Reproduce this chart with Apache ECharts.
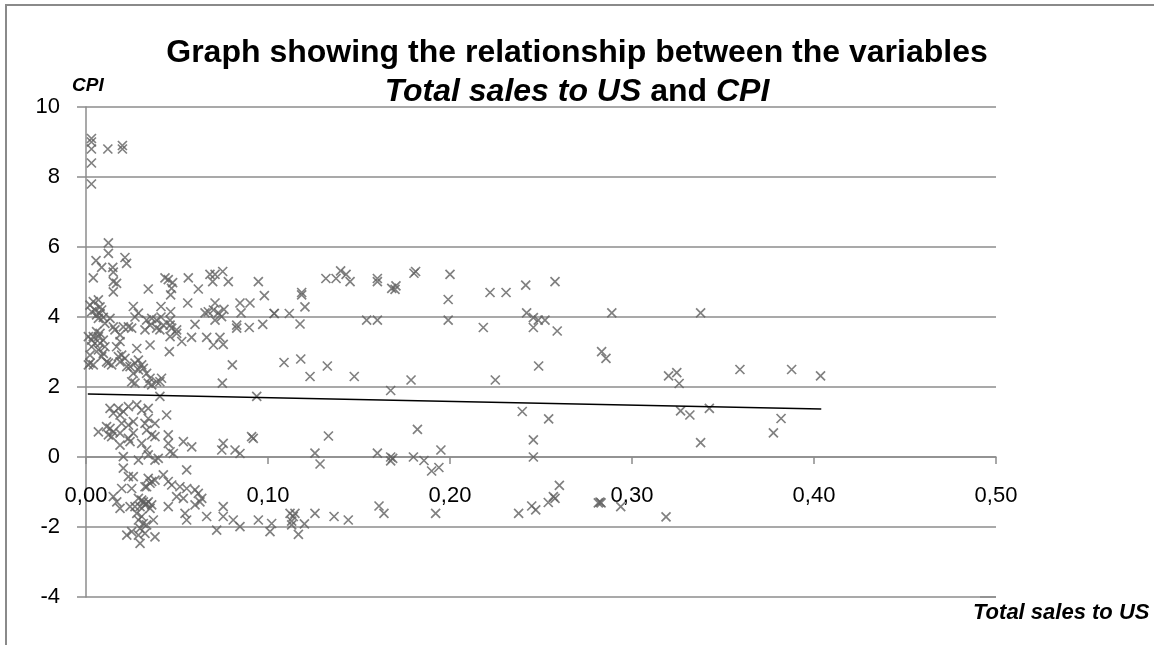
<!DOCTYPE html>
<html>
<head>
<meta charset="utf-8">
<script src="https://cdn.jsdelivr.net/npm/echarts@6/dist/echarts.min.js"></script>
<style>
  html, body { margin: 0; padding: 0; background: #fff; }
  #chart { width: 1154px; height: 645px; }
</style>
</head>
<body>
<div id="chart"></div>
<script>
// [total sales to US, CPI]
const topPoints = [
  [0.003, 9.1], [0.003, 9.0], [0.003, 8.8], [0.012, 8.8], [0.020, 8.9], [0.020, 8.8],
  [0.003, 8.4], [0.003, 7.8]
];

const upperPoints = [
  [0.0123, 6.12], [0.0123, 5.82], [0.0055, 5.61], [0.0086, 5.42], [0.0040, 5.12], [0.0147, 5.42],
  [0.0150, 5.28], [0.0214, 5.70], [0.0223, 5.53], [0.0150, 5.01], [0.0168, 4.96], [0.0150, 4.72],
  [0.0342, 4.80], [0.0434, 5.12], [0.0452, 5.07], [0.0476, 4.98], [0.0470, 4.82], [0.0465, 4.63],
  [0.0562, 5.12], [0.0617, 4.80], [0.0681, 5.22], [0.0709, 5.22], [0.0696, 5.01], [0.0751, 5.30],
  [0.0782, 5.01], [0.0947, 5.01], [0.0980, 4.61], [0.1035, 4.10],
  [0.0260, 4.30], [0.0288, 4.11], [0.0269, 4.00], [0.0412, 4.30], [0.0412, 4.00], [0.0465, 4.15],
  [0.0559, 4.40], [0.0709, 4.40], [0.0846, 4.40], [0.0901, 4.40], [0.0852, 4.12], [0.0654, 4.12],
  [0.0672, 4.15], [0.0700, 4.20], [0.0727, 4.12], [0.0758, 4.22], [0.0709, 3.91], [0.0745, 4.01],
  [0.0971, 3.79], [0.0897, 3.70], [0.0828, 3.77], [0.0828, 3.68], [0.0599, 3.79], [0.0580, 3.42],
  [0.0526, 3.30], [0.0663, 3.42], [0.0700, 3.20], [0.0736, 3.42], [0.0754, 3.22], [0.0458, 3.01],
  [0.0352, 3.20], [0.0804, 2.63], [0.0749, 2.11], [0.0406, 1.73], [0.0938, 1.73]
];

const leftCluster = [
  [0.0040, 4.44], [0.0068, 4.49], [0.0077, 4.29], [0.0049, 4.20], [0.0077, 4.10], [0.0095, 3.99],
  [0.0068, 3.96], [0.0104, 3.82], [0.0132, 3.96], [0.0058, 3.58], [0.0040, 3.44], [0.0077, 3.53],
  [0.0095, 3.34], [0.0049, 3.25], [0.0031, 3.15], [0.0068, 3.06], [0.0095, 2.96], [0.0086, 2.87],
  [0.0022, 2.91], [0.0040, 2.63], [0.0013, 2.63], [0.0113, 2.72], [0.0141, 2.63], [0.0150, 3.72],
  [0.0159, 3.63], [0.0187, 3.49], [0.0205, 3.72], [0.0187, 3.30], [0.0233, 3.72], [0.0251, 3.68],
  [0.0168, 3.15], [0.0196, 2.91], [0.0214, 2.82], [0.0187, 2.72], [0.0224, 2.58], [0.0279, 3.10],
  [0.0022, 4.34], [0.0031, 4.15], [0.0086, 4.20], [0.0058, 4.06], [0.0013, 3.44], [0.0031, 3.34],
  [0.0068, 3.44], [0.0077, 3.25], [0.0104, 3.15], [0.0022, 2.68], [0.0178, 2.87], [0.0123, 2.68],
  [0.0242, 2.58], [0.0269, 2.68], [0.0288, 2.77], [0.0306, 2.63], [0.0260, 2.39], [0.0288, 2.49],
  [0.0315, 2.53], [0.0333, 2.39], [0.0251, 2.15], [0.0269, 2.11], [0.0342, 2.11], [0.0361, 2.06],
  [0.0388, 2.15], [0.0406, 2.15], [0.0415, 2.25], [0.0352, 2.25],
  [0.0333, 3.91], [0.0361, 3.96], [0.0388, 3.91], [0.0352, 3.77], [0.0324, 3.63], [0.0388, 3.68],
  [0.0406, 3.63], [0.0462, 3.91], [0.0462, 3.77], [0.0471, 3.68], [0.0498, 3.63], [0.0462, 3.44],
  [0.0498, 3.53], [0.0425, 3.77]
];

const lowPoints = [
  [0.0132, 1.39], [0.0178, 1.39], [0.0205, 1.30], [0.0233, 1.44], [0.0279, 1.49], [0.0306, 1.34],
  [0.0342, 1.39], [0.0150, 1.25], [0.0187, 1.20], [0.0443, 1.20], [0.0068, 0.72], [0.0132, 0.82],
  [0.0150, 0.72], [0.0123, 0.63], [0.0141, 0.58], [0.0187, 0.68], [0.0233, 0.53], [0.0242, 0.44],
  [0.0260, 0.68], [0.0196, 0.96], [0.0260, 1.01], [0.0324, 0.96], [0.0342, 1.10], [0.0333, 0.77],
  [0.0361, 0.63], [0.0306, 0.39], [0.0452, 0.63], [0.0452, 0.39], [0.0535, 0.44], [0.0581, 0.29],
  [0.0379, 0.58], [0.0333, 0.20], [0.0342, 0.06], [0.0397, -0.04], [0.0379, -0.09], [0.0462, 0.15],
  [0.0480, 0.10], [0.0205, 0.01], [0.0288, -0.09], [0.0187, 0.34], [0.0754, 0.39], [0.0746, 0.20],
  [0.0819, 0.20], [0.0846, 0.10], [0.0910, 0.58], [0.0919, 0.53], [0.0379, 0.96], [0.0233, 0.91],
  [0.0113, 0.87]
];

const negPoints = [
  [0.0553, -0.37], [0.0205, -0.32], [0.0233, -0.56], [0.0260, -0.56], [0.0196, -0.90], [0.0251, -0.90],
  [0.0342, -0.61], [0.0361, -0.70], [0.0324, -0.85], [0.0379, -0.66], [0.0425, -0.51], [0.0452, -0.70],
  [0.0471, -0.80], [0.0516, -0.85], [0.0553, -0.90], [0.0599, -0.94], [0.0617, -1.04], [0.0636, -1.18],
  [0.0626, -1.28], [0.0599, -1.37], [0.0498, -1.13], [0.0535, -1.18], [0.0150, -1.13], [0.0169, -1.28],
  [0.0187, -1.47], [0.0288, -1.18], [0.0315, -1.28], [0.0333, -1.33], [0.0361, -1.37], [0.0297, -1.42],
  [0.0269, -1.42], [0.0242, -1.42], [0.0452, -1.42], [0.0544, -1.61], [0.0553, -1.80], [0.0663, -1.70],
  [0.0718, -2.09], [0.0754, -1.42], [0.0754, -1.70], [0.0809, -1.80], [0.0846, -1.99], [0.0947, -1.80],
  [0.1020, -1.90], [0.1011, -2.13], [0.0288, -1.80], [0.0315, -1.90], [0.0297, -2.04], [0.0333, -1.94],
  [0.0370, -1.80], [0.0224, -2.23], [0.0251, -2.13], [0.0288, -2.23], [0.0324, -2.18], [0.0379, -2.28],
  [0.0297, -2.47], [0.0306, -1.23], [0.0342, -1.28], [0.0324, -1.37], [0.0352, -1.47], [0.0279, -1.61],
  [0.0306, -1.70], [0.0352, -0.75], [0.0333, -0.85]
];

const midPoints = [
  [0.1033, 4.10], [0.1117, 4.10], [0.1176, 3.80], [0.1203, 4.29], [0.1185, 4.70], [0.1185, 4.63],
  [0.1318, 5.10], [0.1374, 5.10], [0.1399, 5.32], [0.1429, 5.22], [0.1451, 5.01], [0.1601, 5.10],
  [0.1601, 5.01], [0.1680, 4.82], [0.1703, 4.89], [0.1698, 4.79], [0.1802, 5.25], [0.1811, 5.30],
  [0.2000, 5.22], [0.1990, 4.50], [0.1990, 3.91], [0.1542, 3.91], [0.1601, 3.91], [0.2183, 3.70],
  [0.2220, 4.70], [0.2308, 4.70], [0.2416, 4.91], [0.2421, 4.12], [0.2458, 3.98], [0.2485, 3.91],
  [0.2522, 3.91], [0.2458, 3.70], [0.2589, 3.60], [0.2577, 5.01], [0.1088, 2.70], [0.1180, 2.80],
  [0.1231, 2.30], [0.1326, 2.60], [0.1474, 2.30], [0.1674, 1.90], [0.1786, 2.20], [0.2249, 2.20],
  [0.2487, 2.60],
  [0.2397, 1.30], [0.2542, 1.09], [0.1332, 0.60], [0.1821, 0.79], [0.2458, 0.49], [0.2458, 0.00],
  [0.1258, 0.11], [0.1286, -0.20], [0.1601, 0.11], [0.1674, 0.00], [0.1674, -0.11], [0.1685, -0.04],
  [0.1799, 0.00], [0.1857, -0.10], [0.1899, -0.40], [0.1939, -0.30], [0.1950, 0.20],
  [0.1121, -1.61], [0.1139, -1.70], [0.1130, -1.83], [0.1130, -1.94], [0.1148, -1.61], [0.1167, -2.21],
  [0.1200, -1.91], [0.1258, -1.61], [0.1363, -1.70], [0.1441, -1.80], [0.1610, -1.40], [0.1637, -1.61],
  [0.1921, -1.61], [0.2377, -1.61], [0.2449, -1.40], [0.2471, -1.51], [0.2540, -1.30], [0.2568, -1.13],
  [0.2601, -0.81], [0.2577, -1.18]
];

const rightPoints = [
  [0.2889, 4.12], [0.3377, 4.12], [0.2833, 3.01], [0.2857, 2.82], [0.3201, 2.32], [0.3246, 2.41],
  [0.3259, 2.10], [0.3593, 2.50], [0.3877, 2.50], [0.4036, 2.32], [0.3267, 1.32], [0.3318, 1.20],
  [0.3425, 1.39], [0.3819, 1.10], [0.3377, 0.41], [0.3777, 0.69], [0.2815, -1.31], [0.2830, -1.31],
  [0.2824, -1.29], [0.2938, -1.42], [0.3187, -1.71]
];

// linear trend line end points
const trendX = [0.001, 0.404];
const trendY = [1.80, 1.37];

const yTicks = [-4, -2, 0, 2, 4, 6, 8, 10];

const allPoints = [].concat(topPoints, upperPoints, leftCluster, lowPoints, negPoints, midPoints, rightPoints);
const gridColor = '#8c8c8c';
const font = "'Liberation Sans', sans-serif";

const chart = echarts.init(document.getElementById('chart'));
chart.setOption({
  backgroundColor: '#fff',
  animation: false,
  title: [
    {
      text: 'Graph showing the relationship between the variables',
      left: 'center',
      top: 32,
      textStyle: { fontFamily: font, fontSize: 32, fontWeight: 'bold', color: '#000' }
    },
    {
      text: '{i|Total sales to US}{b| and }{i|CPI}',
      left: 'center',
      top: 71,
      textStyle: {
        rich: {
          i: { fontFamily: font, fontSize: 32, fontWeight: 'bold', fontStyle: 'italic', color: '#000' },
          b: { fontFamily: font, fontSize: 32, fontWeight: 'bold', color: '#000' }
        }
      }
    }
  ],
  graphic: [
    {
      type: 'rect',
      shape: { x: 6, y: 5, width: 1200, height: 700 },
      style: { fill: 'none', stroke: '#8a8a8a', lineWidth: 2 },
      silent: true
    },
    {
      type: 'line',
      shape: { x1: 996, y1: 597, x2: 980, y2: 597 },
      style: { stroke: '#8c8c8c', lineWidth: 1.5 },
      silent: true
    },
    {
      type: 'text',
      left: 72,
      top: 76,
      style: { text: 'CPI', fontFamily: font, fontSize: 19, fontWeight: 'bold', fontStyle: 'italic', fill: '#000' }
    },
    {
      type: 'text',
      left: 973,
      top: 602,
      style: { text: 'Total sales to US', fontFamily: font, fontSize: 22, fontWeight: 'bold', fontStyle: 'italic', fill: '#000' }
    }
  ],
  grid: { left: 86, right: 158, top: 107, bottom: 48 },
  xAxis: {
    type: 'value',
    min: 0,
    max: 0.5,
    interval: 0.1,
    position: 'bottom',
    offset: -140,
    axisLine: { onZero: false, lineStyle: { color: gridColor, width: 1.5 } },
    axisTick: { show: true, length: 7, lineStyle: { color: gridColor, width: 1.5 } },
    axisLabel: {
      margin: 28,
      fontFamily: font,
      fontSize: 22,
      color: '#000',
      formatter: v => v.toFixed(2).replace('.', ',')
    },
    splitLine: { show: false }
  },
  yAxis: {
    type: 'value',
    min: yTicks[0],
    max: yTicks[yTicks.length - 1],
    interval: 2,
    axisLine: { show: true, onZero: false, lineStyle: { color: gridColor, width: 1.5 } },
    axisTick: { show: true, length: 9, lineStyle: { color: gridColor, width: 1.5 } },
    axisLabel: { margin: 26, fontFamily: font, fontSize: 22, color: '#000' },
    splitLine: { show: true, lineStyle: { color: gridColor, width: 1.5 } }
  },
  series: [
    {
      type: 'scatter',
      data: allPoints,
      symbol: 'path://M0,0L10,10M0,10L10,0',
      symbolSize: 9,
      itemStyle: { color: 'none', borderColor: '#606060', borderWidth: 1.7 },
      z: 2
    },
    {
      type: 'line',
      data: trendX.map((x, i) => [x, trendY[i]]),
      symbol: 'none',
      lineStyle: { color: '#000', width: 1.5 },
      z: 3
    }
  ]
});
</script>
</body>
</html>
